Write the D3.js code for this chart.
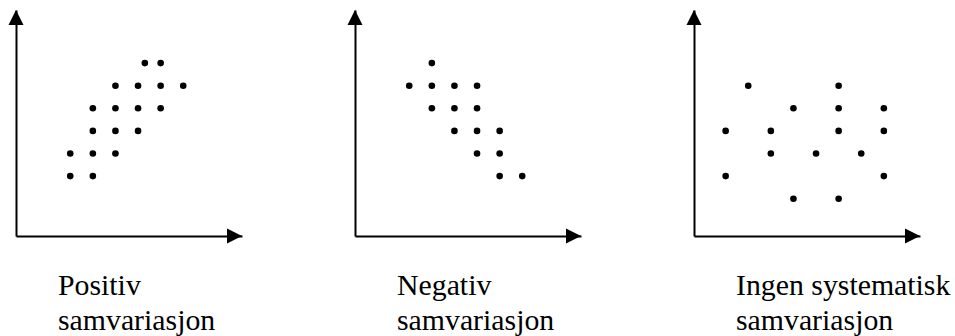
<!DOCTYPE html>
<html>
<head>
<meta charset="utf-8">
<script src="https://cdn.jsdelivr.net/npm/d3@7"></script>
<style>
  html, body { margin: 0; padding: 0; background: #fff; }
  svg { display: block; }
  text { font-family: "Liberation Serif", "Times New Roman", serif; fill: #000; }
</style>
</head>
<body>
<svg id="chart" width="955" height="336"></svg>
<script>
// Three schematic scatter plots illustrating kinds of covariation.
const titleLine1 = ["Positiv", "Negativ", "Ingen systematisk"];
const titleLine2 = ["samvariasjon", "samvariasjon", "samvariasjon"];

// Positive covariation
const positivX = [5.7, 6.4, 4.4, 5.4, 6.4, 7.4, 3.4, 4.4, 5.4, 6.4, 3.4, 4.4, 5.4, 2.4, 3.4, 4.4, 2.4, 3.4];
const positivY = [7.65, 7.65, 6.65, 6.65, 6.65, 6.65, 5.65, 5.65, 5.65, 5.65, 4.65, 4.65, 4.65, 3.65, 3.65, 3.65, 2.65, 2.65];

// Negative covariation
const negativX = [3.4, 2.4, 3.4, 4.4, 5.4, 3.4, 4.4, 5.4, 4.4, 5.4, 6.4, 5.4, 6.4, 6.4, 7.4];
const negativY = [7.65, 6.65, 6.65, 6.65, 6.65, 5.65, 5.65, 5.65, 4.65, 4.65, 4.65, 3.65, 3.65, 2.65, 2.65];

// No systematic covariation
const ingenX = [2.4, 6.4, 4.4, 6.4, 8.4, 1.4, 3.4, 6.4, 8.4, 3.4, 5.4, 7.4, 1.4, 8.4, 4.4, 6.4];
const ingenY = [6.65, 6.65, 5.65, 5.65, 5.65, 4.65, 4.65, 4.65, 4.65, 3.65, 3.65, 3.65, 2.65, 2.65, 1.65, 1.65];

const seriesX = [positivX, negativX, ingenX];
const seriesY = [positivY, negativY, ingenY];

const svg = d3.select("#chart");

const panelLeft = [16, 355, 694];
const axisBottomY = 236;
const axisLen = 226;
const arrowLen = 15, arrowHalf = 7.5;

panelLeft.forEach((left, i) => {
  const x = d3.scaleLinear().domain([0, 10]).range([left, left + axisLen]);
  const y = d3.scaleLinear().domain([0, 10]).range([axisBottomY, axisBottomY - axisLen]);

  const g = svg.append("g");

  // Axis lines without ticks
  g.append("g")
    .attr("transform", `translate(0,${axisBottomY})`)
    .call(d3.axisBottom(x).tickValues([]).tickSizeOuter(0));
  g.append("g")
    .attr("transform", `translate(${left},0)`)
    .call(d3.axisLeft(y).tickValues([]).tickSizeOuter(0));
  g.selectAll(".domain").attr("stroke", "#000").attr("stroke-width", 2);

  // Arrowheads at the ends of both axes
  const xEnd = x(10), yEnd = y(10);
  g.append("path")
    .attr("d", `M${xEnd},${axisBottomY} L${xEnd - arrowLen},${axisBottomY - arrowHalf} L${xEnd - arrowLen},${axisBottomY + arrowHalf} Z`)
    .attr("fill", "#000");
  g.append("path")
    .attr("d", `M${left},${yEnd} L${left - arrowHalf},${yEnd + arrowLen} L${left + arrowHalf},${yEnd + arrowLen} Z`)
    .attr("fill", "#000");

  // Points
  g.selectAll("circle")
    .data(d3.zip(seriesX[i], seriesY[i]))
    .join("circle")
    .attr("cx", d => x(d[0]))
    .attr("cy", d => y(d[1]))
    .attr("r", 3.3)
    .attr("fill", "#000");

  // Caption
  const t = g.append("text").attr("font-size", 29.8);
  t.append("tspan").attr("x", left + 42).attr("y", 295).text(titleLine1[i]);
  t.append("tspan").attr("x", left + 42).attr("y", 329.5).text(titleLine2[i]);
});
</script>
</body>
</html>
